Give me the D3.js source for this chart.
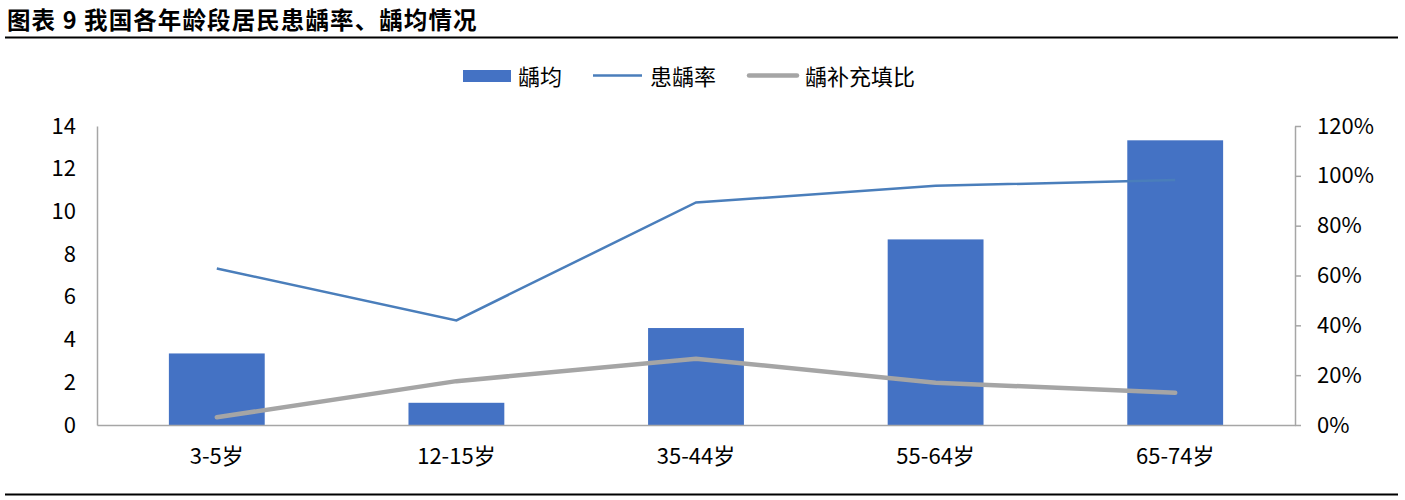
<!DOCTYPE html>
<html>
<head>
	<meta charset="UTF-8">
	<title>我国各年龄段居民患龋率、龋均情况</title>
	<script src="https://cdn.jsdelivr.net/npm/d3@7/dist/d3.min.js"></script>
	<style>
		body {
			padding: 0;
			margin: 0;
			background: #fff;
		}
		text {
			font-family: "Noto Sans CJK SC", "Liberation Sans", sans-serif;
		}
	</style>
</head>
<body>
	<script>
		var w = 1405,
			h = 500;

		// data
		var categories = ["3-5岁", "12-15岁", "35-44岁", "55-64岁", "65-74岁"];
		var dmft = [3.35, 1.04, 4.54, 8.69, 13.33];              // 龋均
		var cariesRate = [0.628, 0.42, 0.893, 0.96, 0.983];     // 患龋率
		var fillRatio = [0.031, 0.176, 0.266, 0.17, 0.129];     // 龋补充填比
		var leftTicks = [0, 2, 4, 6, 8, 10, 12, 14];
		var rightTicks = [0, 0.2, 0.4, 0.6, 0.8, 1.0, 1.2];

		// plot box (window.top is reserved, so use own names)
		var plotL = 97, plotR = 1295, plotT = 126, plotB = 425;

		var svg = d3.select("body").append("svg")
			.attr("width", w)
			.attr("height", h);

		// title + rules
		svg.append("text")
			.attr("x", 7)
			.attr("y", 29)
			.attr("font-size", 23.5)
			.attr("font-weight", "bold")
			.attr("letter-spacing", 1.1)
			.attr("fill", "#000")
			.text("图表 9 我国各年龄段居民患龋率、龋均情况");
		svg.append("line")
			.attr("x1", 5).attr("x2", 1398)
			.attr("y1", 37.5).attr("y2", 37.5)
			.attr("stroke", "#000").attr("stroke-width", 2);
		svg.append("line")
			.attr("x1", 5).attr("x2", 1398)
			.attr("y1", 494.5).attr("y2", 494.5)
			.attr("stroke", "#000").attr("stroke-width", 2);

		var x = d3.scaleBand()
			.domain(categories)
			.range([plotL, plotR])
			.paddingInner(0.6)
			.paddingOuter(0.3);
		var yL = d3.scaleLinear().domain([0, 14]).range([plotB, plotT]);
		var yR = d3.scaleLinear().domain([0, 1.2]).range([plotB, plotT]);

		// bars
		svg.selectAll("rect.bar")
			.data(dmft)
			.enter().append("rect")
			.attr("class", "bar")
			.attr("x", function (d, i) { return x(categories[i]); })
			.attr("y", function (d) { return yL(d); })
			.attr("width", x.bandwidth())
			.attr("height", function (d) { return plotB - yL(d); })
			.attr("fill", "#4472c4");

		// left axis (no ticks)
		var gl = svg.append("g")
			.attr("transform", "translate(" + plotL + ",0)")
			.call(d3.axisLeft(yL).tickValues(leftTicks).tickSize(0).tickPadding(21));
		gl.select(".domain").attr("stroke", "#a6a6a6").attr("stroke-width", 1.5);
		gl.selectAll("text").attr("font-size", 22).attr("fill", "#000")
			.attr("font-family", "'Liberation Sans', sans-serif");

		// right axis
		var gr = svg.append("g")
			.attr("transform", "translate(" + plotR + ",0)")
			.call(d3.axisRight(yR).tickValues(rightTicks).tickSize(6).tickSizeOuter(0).tickPadding(16)
				.tickFormat(d3.format(".0%")));
		gr.select(".domain").attr("stroke", "#a6a6a6").attr("stroke-width", 1.5);
		gr.selectAll("line").attr("stroke", "#a6a6a6").attr("stroke-width", 1.5);
		gr.selectAll("text").attr("font-size", 22).attr("fill", "#000")
			.attr("font-family", "'Liberation Sans', sans-serif");

		// bottom axis
		var gb = svg.append("g")
			.attr("transform", "translate(0," + plotB + ")")
			.call(d3.axisBottom(x).tickSize(0).tickPadding(23));
		gb.select(".domain").attr("stroke", "#a6a6a6").attr("stroke-width", 1.5);
		gb.selectAll("text").attr("font-size", 22).attr("fill", "#000");

		// lines
		var cx = function (d, i) { return x(categories[i]) + x.bandwidth() / 2; };
		svg.append("path")
			.datum(cariesRate)
			.attr("fill", "none")
			.attr("stroke", "#4a7ebb")
			.attr("stroke-width", 2.5)
			.attr("d", d3.line().x(cx).y(function (d) { return yR(d); }));
		svg.append("path")
			.datum(fillRatio)
			.attr("fill", "none")
			.attr("stroke", "#a5a5a5")
			.attr("stroke-width", 4.5)
			.attr("stroke-linecap", "round")
			.attr("d", d3.line().x(cx).y(function (d) { return yR(d); }));

		// legend
		var lg = svg.append("g").attr("font-size", 22);
		lg.append("rect").attr("x", 463).attr("y", 70).attr("width", 48).attr("height", 12).attr("fill", "#4472c4");
		lg.append("text").attr("x", 518).attr("y", 85).text("龋均");
		lg.append("line").attr("x1", 593).attr("x2", 642).attr("y1", 75.5).attr("y2", 75.5)
			.attr("stroke", "#4a7ebb").attr("stroke-width", 2.5);
		lg.append("text").attr("x", 650).attr("y", 85).text("患龋率");
		lg.append("line").attr("x1", 749).attr("x2", 797).attr("y1", 75.5).attr("y2", 75.5)
			.attr("stroke", "#a5a5a5").attr("stroke-width", 4.5).attr("stroke-linecap", "round");
		lg.append("text").attr("x", 805).attr("y", 85).text("龋补充填比");
	</script>
</body>
</html>
